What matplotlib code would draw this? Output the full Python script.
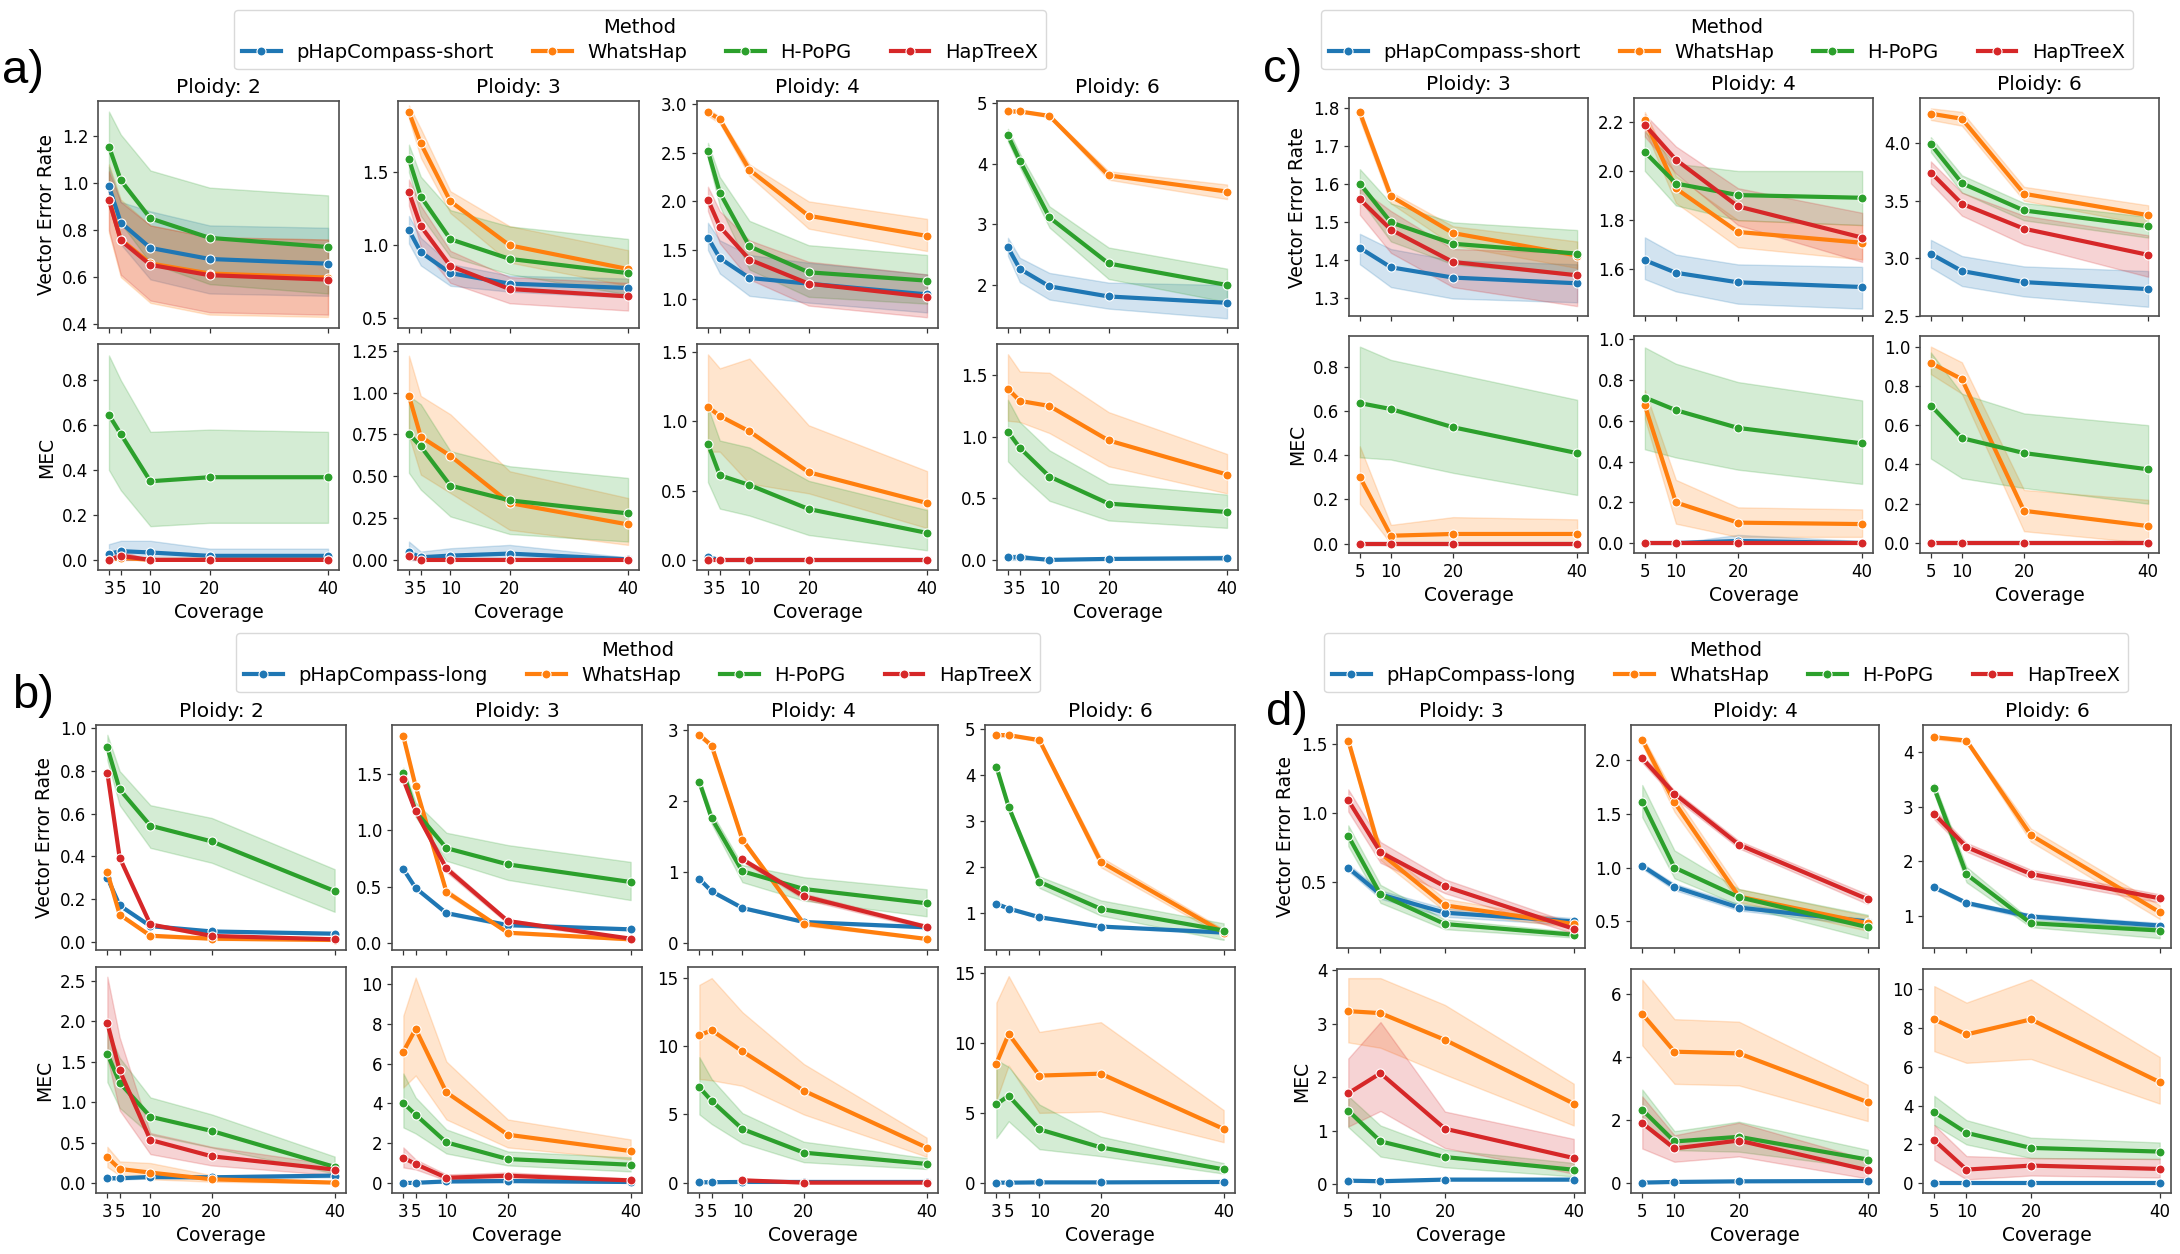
import numpy as np
import matplotlib
matplotlib.use("Agg")
import matplotlib.pyplot as plt
from matplotlib.lines import Line2D

# ---------------- data ----------------
N = None
X_AB = [3, 5, 10, 20, 40]
X_CD = [5, 10, 20, 40]
PLOIDY_AB = [2, 3, 4, 6]
PLOIDY_CD = [3, 4, 6]
METHODS = ["P", "W", "H", "X"]
NAMES_SHORT = ["pHapCompass-short", "WhatsHap", "H-PoPG", "HapTreeX"]
NAMES_LONG = ["pHapCompass-long", "WhatsHap", "H-PoPG", "HapTreeX"]
# method -> (mean, lower, upper)

# ---- panel a (short reads) : vector error rate
A_VER_2 = {
    "P": ([0.986, 0.832, 0.724, 0.677, 0.657], [0.90, 0.74, 0.59, 0.53, 0.52], [1.07, 0.92, 0.88, 0.82, 0.81]),
    "W": ([0.930, 0.760, 0.658, 0.615, 0.598], [0.79, 0.60, 0.49, 0.44, 0.43], [1.08, 0.93, 0.82, 0.77, 0.76]),
    "H": ([1.156, 1.012, 0.850, 0.767, 0.728], [1.00, 0.83, 0.66, 0.57, 0.53], [1.305, 1.207, 1.054, 0.981, 0.948]),
    "X": ([0.928, 0.756, 0.652, 0.608, 0.589], [0.80, 0.61, 0.50, 0.45, 0.44], [1.05, 0.92, 0.82, 0.77, 0.76]),
}
A_VER_3 = {
    "P": ([1.102, 0.951, 0.807, 0.735, 0.705], [1.01, 0.86, 0.72, 0.68, 0.64], [1.20, 1.05, 0.87, 0.79, 0.77]),
    "W": ([1.914, 1.698, 1.300, 0.998, 0.835], [1.87, 1.60, 1.22, 0.88, 0.72], [1.96, 1.80, 1.37, 1.13, 0.965]),
    "H": ([1.591, 1.333, 1.040, 0.905, 0.807], [1.50, 1.20, 0.92, 0.80, 0.66], [1.69, 1.47, 1.24, 1.128, 1.042]),
    "X": ([1.363, 1.130, 0.856, 0.698, 0.647], [1.27, 0.99, 0.74, 0.60, 0.55], [1.45, 1.27, 0.96, 0.78, 0.74]),
}
A_VER_4 = {
    "P": ([1.628, 1.417, 1.214, 1.155, 1.045], [1.50, 1.26, 1.03, 0.96, 0.86], [1.78, 1.60, 1.45, 1.37, 1.25]),
    "W": ([2.917, 2.841, 2.324, 1.852, 1.645], [2.88, 2.80, 2.26, 1.72, 1.49], [2.95, 2.87, 2.38, 2.00, 1.82]),
    "H": ([2.517, 2.090, 1.538, 1.272, 1.186], [2.44, 1.95, 1.30, 1.02, 0.95], [2.60, 2.25, 1.80, 1.55, 1.45]),
    "X": ([2.017, 1.741, 1.403, 1.155, 1.021], [1.90, 1.57, 1.20, 0.93, 0.81], [2.15, 1.90, 1.60, 1.38, 1.25]),
}
A_VER_6 = {
    "P": ([2.622, 2.267, 1.978, 1.811, 1.706], [2.48, 2.05, 1.76, 1.61, 1.45], [2.78, 2.45, 2.20, 2.04, 2.00]),
    "W": ([4.867, 4.867, 4.794, 3.811, 3.544], [4.85, 4.85, 4.77, 3.74, 3.42], [4.89, 4.89, 4.82, 3.88, 3.66]),
    "H": ([4.472, 4.056, 3.117, 2.356, 2.000], [4.37, 3.95, 2.95, 2.10, 1.72], [4.58, 4.17, 3.30, 2.62, 2.27]),
}
# ---- panel a : MEC
A_MEC_2 = {
    "P": ([0.027, 0.039, 0.033, 0.018, 0.018], [0, 0, 0, 0, 0], [0.07, 0.085, 0.085, 0.05, 0.05]),
    "W": ([0.0, 0.01, 0.0, 0.0, 0.0], [0, 0, 0, 0, 0], [0.0, 0.03, 0.0, 0.0, 0.0]),
    "H": ([0.645, 0.560, 0.350, 0.368, 0.368], [0.40, 0.31, 0.15, 0.165, 0.165], [0.91, 0.80, 0.57, 0.58, 0.57]),
    "X": ([0.0, 0.018, 0.0, 0.0, 0.0], [0, 0, 0, 0, 0], [0.01, 0.04, 0.0, 0.0, 0.0]),
}
A_MEC_3 = {
    "P": ([0.046, 0.016, 0.026, 0.038, 0.004], [0, 0, 0, 0, 0], [0.11, 0.05, 0.07, 0.09, 0.015]),
    "W": ([0.980, 0.736, 0.622, 0.340, 0.212], [0.74, 0.51, 0.40, 0.18, 0.09], [1.22, 0.98, 0.87, 0.53, 0.37]),
    "H": ([0.752, 0.678, 0.444, 0.356, 0.278], [0.52, 0.42, 0.26, 0.155, 0.11], [0.98, 0.93, 0.65, 0.56, 0.49]),
    "X": ([0.022, 0.0, 0.0, 0.0, 0.0], [0, 0, 0, 0, 0], [0.04, 0.0, 0.0, 0.0, 0.0]),
}
A_MEC_4 = {
    "P": ([0.02, 0.0, 0.0, 0.0, 0.0], [0, 0, 0, 0, 0], [0.04, 0.01, 0.0, 0.0, 0.0]),
    "W": ([1.102, 1.037, 0.926, 0.632, 0.410], [0.78, 0.78, 0.55, 0.48, 0.23], [1.48, 1.38, 1.45, 0.97, 0.64]),
    "H": ([0.837, 0.610, 0.540, 0.367, 0.195], [0.56, 0.37, 0.32, 0.18, 0.07], [1.10, 0.86, 0.81, 0.57, 0.36]),
    "X": ([0.0, 0.0, 0.0, 0.0, 0.0], [0, 0, 0, 0, 0], [0, 0, 0, 0, 0]),
}
A_MEC_6 = {
    "P": ([0.020, 0.022, 0.0, 0.008, 0.014], [0, 0, 0, 0, 0], [0.04, 0.045, 0.01, 0.02, 0.035]),
    "W": ([1.389, 1.291, 1.250, 0.970, 0.693], [1.13, 1.12, 1.03, 0.76, 0.54], [1.67, 1.53, 1.52, 1.20, 0.86]),
    "H": ([1.041, 0.910, 0.677, 0.457, 0.389], [0.80, 0.70, 0.48, 0.32, 0.26], [1.30, 1.12, 0.89, 0.62, 0.53]),
}

# ---- panel b (long reads) : vector error rate
B_VER_2 = {
    "P": ([0.300, 0.170, 0.073, 0.048, 0.0375], [0.295, 0.165, 0.068, 0.043, 0.033], [0.305, 0.175, 0.078, 0.053, 0.042]),
    "W": ([0.325, 0.127, 0.028, 0.014, 0.008], [0.319, 0.121, 0.022, 0.008, 0.003], [0.331, 0.133, 0.034, 0.020, 0.013]),
    "H": ([0.911, 0.714, 0.544, 0.470, 0.2375], [0.85, 0.64, 0.44, 0.37, 0.14], [0.97, 0.80, 0.64, 0.58, 0.34]),
    "X": ([0.792, 0.394, 0.081, 0.027, 0.011], [0.78, 0.385, 0.075, 0.022, 0.008], [0.80, 0.40, 0.087, 0.032, 0.014]),
}
B_VER_3 = {
    "P": ([0.656, 0.487, 0.264, 0.157, 0.119], [0.645, 0.48, 0.25, 0.145, 0.11], [0.667, 0.495, 0.275, 0.17, 0.13]),
    "W": ([1.838, 1.393, 0.454, 0.089, 0.030], [1.82, 1.37, 0.43, 0.08, 0.02], [1.86, 1.41, 0.48, 0.10, 0.04]),
    "H": ([1.512, 1.170, 0.843, 0.698, 0.541], [1.46, 1.12, 0.73, 0.56, 0.38], [1.56, 1.25, 0.98, 0.87, 0.72]),
    "X": ([1.455, 1.170, 0.662, 0.193, 0.036], [1.43, 1.15, 0.63, 0.17, 0.03], [1.48, 1.19, 0.69, 0.21, 0.045]),
}
B_VER_4 = {
    "P": ([0.905, 0.731, 0.497, 0.300, 0.225], [0.89, 0.716, 0.482, 0.285, 0.21], [0.92, 0.746, 0.512, 0.315, 0.24]),
    "W": ([2.930, 2.780, 1.458, 0.277, 0.061], [2.90, 2.75, 1.42, 0.25, 0.05], [2.96, 2.81, 1.49, 0.30, 0.075]),
    "H": ([2.269, 1.758, 1.013, 0.764, 0.563], [2.22, 1.68, 0.86, 0.60, 0.38], [2.32, 1.84, 1.10, 0.93, 0.76]),
    "X": ([N, N, 1.181, 0.661, 0.230], [N, N, 1.15, 0.62, 0.20], [N, N, 1.21, 0.70, 0.26]),
}
B_VER_6 = {
    "P": ([1.203, 1.101, 0.913, 0.710, 0.580], [1.18, 1.08, 0.89, 0.69, 0.55], [1.22, 1.12, 0.93, 0.73, 0.61]),
    "W": ([4.870, 4.870, 4.761, 2.116, 0.580], [4.84, 4.84, 4.73, 2.00, 0.50], [4.90, 4.90, 4.79, 2.22, 0.65]),
    "H": ([4.188, 3.312, 1.681, 1.094, 0.623], [4.15, 3.25, 1.55, 0.95, 0.42], [4.22, 3.36, 1.80, 1.28, 0.78]),
}
# ---- panel b : MEC
B_MEC_2 = {
    "P": ([0.062, 0.062, 0.078, 0.074, 0.095], [0.045, 0.045, 0.06, 0.055, 0.075], [0.08, 0.08, 0.095, 0.095, 0.115]),
    "W": ([0.321, 0.177, 0.132, 0.049, 0.008], [0.20, 0.10, 0.05, 0.02, 0.0], [0.45, 0.27, 0.25, 0.10, 0.02]),
    "H": ([1.600, 1.242, 0.822, 0.646, 0.202], [1.25, 0.93, 0.60, 0.44, 0.12], [1.90, 1.55, 1.06, 0.85, 0.33]),
    "X": ([1.978, 1.394, 0.535, 0.333, 0.169], [1.55, 0.90, 0.36, 0.22, 0.10], [2.55, 1.80, 0.62, 0.45, 0.23]),
}
B_MEC_3 = {
    "P": ([0.02, 0.03, 0.10, 0.12, 0.07], [0.0, 0.0, 0.03, 0.05, 0.03], [0.05, 0.06, 0.17, 0.19, 0.11]),
    "W": ([6.594, 7.730, 4.558, 2.437, 1.619], [4.8, 5.4, 3.2, 1.8, 1.2], [8.4, 10.3, 6.1, 3.2, 2.2]),
    "H": ([4.023, 3.439, 2.053, 1.219, 0.935], [2.8, 2.5, 1.5, 0.9, 0.6], [5.5, 4.3, 2.7, 1.6, 1.3]),
    "X": ([1.285, 0.968, 0.284, 0.384, 0.150], [0.8, 0.7, 0.15, 0.2, 0.05], [1.8, 1.2, 0.45, 0.55, 0.25]),
}
B_MEC_4 = {
    "P": ([0.02, 0.03, 0.05, 0.05, 0.05], [0.0, 0.0, 0.0, 0.0, 0.0], [0.05, 0.06, 0.1, 0.1, 0.1]),
    "W": ([10.80, 11.17, 9.63, 6.74, 2.57], [7.6, 7.5, 7.1, 5.0, 1.9], [14.5, 15.0, 12.5, 8.7, 3.3]),
    "H": ([6.99, 5.99, 3.93, 2.20, 1.37], [5.0, 4.3, 2.9, 1.5, 1.0], [9.2, 7.6, 5.1, 3.0, 1.8]),
    "X": ([N, N, 0.17, 0.0, 0.0], [N, N, 0.05, 0.0, 0.0], [N, N, 0.3, 0.05, 0.05]),
}
B_MEC_6 = {
    "P": ([0.0, 0.0, 0.02, 0.02, 0.05], [0.0, 0.0, 0.0, 0.0, 0.0], [0.03, 0.03, 0.05, 0.05, 0.1]),
    "W": ([8.53, 10.65, 7.67, 7.81, 3.85], [5.9, 8.4, 5.0, 5.1, 2.9], [12.9, 14.8, 10.8, 11.5, 5.2]),
    "H": ([5.61, 6.23, 3.82, 2.53, 0.955], [3.2, 4.4, 2.4, 1.9, 0.65], [8.8, 8.3, 5.6, 3.3, 1.4]),
}

# ---- panel c (short reads, second set) : vector error rate
C_VER_3 = {
    "P": ([1.433, 1.382, 1.355, 1.340], [1.39, 1.33, 1.30, 1.29], [1.47, 1.43, 1.40, 1.39]),
    "W": ([1.789, 1.569, 1.472, 1.413], [1.77, 1.55, 1.44, 1.38], [1.80, 1.58, 1.49, 1.45]),
    "H": ([1.602, 1.500, 1.444, 1.418], [1.56, 1.45, 1.39, 1.36], [1.64, 1.55, 1.50, 1.48]),
    "X": ([1.561, 1.481, 1.396, 1.361], [1.52, 1.42, 1.33, 1.28], [1.59, 1.53, 1.43, 1.42]),
}
C_VER_4 = {
    "P": ([1.637, 1.586, 1.547, 1.528], [1.56, 1.51, 1.46, 1.44], [1.73, 1.66, 1.62, 1.61]),
    "W": ([2.207, 1.929, 1.752, 1.708], [2.17, 1.87, 1.69, 1.64], [2.24, 1.98, 1.80, 1.78]),
    "H": ([2.077, 1.949, 1.902, 1.891], [2.00, 1.86, 1.80, 1.78], [2.16, 2.03, 2.00, 2.00]),
    "X": ([2.188, 2.046, 1.856, 1.729], [2.14, 1.99, 1.78, 1.63], [2.23, 2.10, 1.93, 1.83]),
}
C_VER_6 = {
    "P": ([3.039, 2.890, 2.794, 2.733], [2.92, 2.76, 2.67, 2.58], [3.16, 3.02, 2.93, 2.89]),
    "W": ([4.254, 4.210, 3.560, 3.374], [4.20, 4.15, 3.50, 3.29], [4.30, 4.27, 3.62, 3.46]),
    "H": ([3.988, 3.651, 3.415, 3.278], [3.92, 3.57, 3.33, 3.18], [4.05, 3.72, 3.48, 3.36]),
    "X": ([3.744, 3.473, 3.257, 3.030], [3.65, 3.37, 3.12, 2.84], [3.84, 3.57, 3.37, 3.20]),
}
# ---- panel c : MEC
C_MEC_3 = {
    "P": ([0.0, 0.0, 0.0, 0.0], [0, 0, 0, 0], [0, 0, 0, 0]),
    "W": ([0.301, 0.036, 0.044, 0.044], [0.18, 0.0, 0.0, 0.0], [0.44, 0.085, 0.12, 0.11]),
    "H": ([0.635, 0.608, 0.526, 0.409], [0.39, 0.38, 0.32, 0.22], [0.89, 0.83, 0.77, 0.65]),
    "X": ([0.0, 0.0, 0.0, 0.0], [0, 0, 0, 0], [0, 0, 0, 0]),
}
C_MEC_4 = {
    "P": ([0.0, 0.0, 0.01, 0.0], [0, 0, 0, 0], [0.0, 0.0, 0.04, 0.01]),
    "W": ([0.676, 0.199, 0.100, 0.093], [0.61, 0.095, 0.03, 0.03], [0.75, 0.31, 0.175, 0.165]),
    "H": ([0.714, 0.652, 0.565, 0.489], [0.46, 0.42, 0.36, 0.29], [0.96, 0.88, 0.79, 0.70]),
    "X": ([0.0, 0.0, 0.0, 0.0], [0, 0, 0, 0], [0, 0, 0, 0]),
}
C_MEC_6 = {
    "P": ([0.0, 0.0, 0.0, 0.0], [0, 0, 0, 0], [0, 0, 0, 0]),
    "W": ([0.917, 0.834, 0.164, 0.086], [0.86, 0.76, 0.06, 0.0], [1.00, 0.92, 0.27, 0.22]),
    "H": ([0.700, 0.534, 0.458, 0.375], [0.43, 0.33, 0.28, 0.20], [0.97, 0.76, 0.66, 0.60]),
    "X": ([0.0, 0.0, 0.0, 0.0], [0, 0, 0, 0], [0, 0, 0, 0]),
}

# ---- panel d (long reads, second set) : vector error rate
D_VER_3 = {
    "P": ([0.603, 0.411, 0.279, 0.216], [0.58, 0.38, 0.25, 0.19], [0.63, 0.44, 0.31, 0.24]),
    "W": ([1.522, 0.709, 0.332, 0.197], [1.49, 0.66, 0.29, 0.17], [1.55, 0.75, 0.38, 0.22]),
    "H": ([0.834, 0.411, 0.197, 0.120], [0.76, 0.35, 0.16, 0.10], [0.91, 0.48, 0.23, 0.14]),
    "X": ([1.091, 0.716, 0.469, 0.163], [1.01, 0.64, 0.42, 0.13], [1.17, 0.79, 0.52, 0.20]),
}
D_VER_4 = {
    "P": ([1.016, 0.820, 0.627, 0.497], [0.99, 0.79, 0.60, 0.46], [1.04, 0.85, 0.66, 0.52]),
    "W": ([2.193, 1.609, 0.730, 0.481], [2.15, 1.52, 0.68, 0.41], [2.23, 1.68, 0.80, 0.55]),
    "H": ([1.615, 1.000, 0.724, 0.444], [1.47, 0.90, 0.65, 0.34], [1.77, 1.16, 0.80, 0.56]),
    "X": ([2.019, 1.689, 1.214, 0.705], [1.98, 1.65, 1.18, 0.66], [2.05, 1.72, 1.25, 0.75]),
}
D_VER_6 = {
    "P": ([1.528, 1.243, 0.994, 0.830], [1.49, 1.21, 0.95, 0.78], [1.56, 1.28, 1.04, 0.88]),
    "W": ([4.267, 4.206, 2.481, 1.073], [4.23, 4.17, 2.36, 0.95], [4.30, 4.24, 2.60, 1.20]),
    "H": ([3.338, 1.765, 0.872, 0.739], [3.23, 1.62, 0.80, 0.60], [3.43, 1.90, 0.93, 0.80]),
    "X": ([2.864, 2.263, 1.771, 1.328], [2.77, 2.18, 1.69, 1.25], [2.95, 2.34, 1.85, 1.40]),
}
# ---- panel d : MEC
D_MEC_3 = {
    "P": ([0.07, 0.06, 0.09, 0.09], [0.05, 0.04, 0.07, 0.07], [0.09, 0.08, 0.11, 0.11]),
    "W": ([3.234, 3.196, 2.698, 1.508], [2.65, 2.55, 2.05, 1.10], [3.85, 3.85, 3.35, 1.88]),
    "H": ([1.377, 0.804, 0.511, 0.274], [1.07, 0.52, 0.32, 0.15], [1.65, 1.10, 0.65, 0.40]),
    "X": ([1.701, 2.075, 1.040, 0.492], [1.08, 1.37, 0.68, 0.20], [2.35, 3.03, 1.36, 0.85]),
}
D_MEC_4 = {
    "P": ([0.02, 0.04, 0.06, 0.07], [0.0, 0.02, 0.04, 0.05], [0.04, 0.06, 0.08, 0.09]),
    "W": ([5.365, 4.169, 4.116, 2.571], [4.37, 3.15, 3.10, 1.97], [6.45, 5.20, 5.12, 3.12]),
    "H": ([2.328, 1.323, 1.471, 0.751], [1.85, 1.05, 1.00, 0.48], [2.97, 1.65, 1.95, 1.06]),
    "X": ([1.905, 1.101, 1.354, 0.413], [1.10, 0.68, 0.85, 0.15], [2.75, 1.52, 1.92, 0.75]),
}
D_MEC_6 = {
    "P": ([0.03, 0.03, 0.03, 0.03], [0.0, 0.0, 0.0, 0.0], [0.06, 0.06, 0.06, 0.06]),
    "W": ([8.436, 7.663, 8.436, 5.206], [6.8, 6.2, 6.4, 4.1], [10.15, 9.3, 10.5, 6.5]),
    "H": ([3.660, 2.594, 1.821, 1.632], [3.0, 2.0, 1.3, 1.25], [4.5, 3.25, 2.35, 2.1]),
    "X": ([2.216, 0.704, 0.911, 0.739], [1.2, 0.2, 0.4, 0.3], [3.0, 1.4, 1.3, 1.25]),
}

# y-axis limits
A_VER_YLIM = [(0.383, 1.35), (0.43, 1.99), (0.70, 3.03), (1.29, 5.04)]
A_MEC_YLIM = [(-0.045, 0.961), (-0.06, 1.29), (-0.072, 1.555), (-0.082, 1.753)]
B_VER_YLIM = [(-0.039, 1.016), (-0.065, 1.94), (-0.094, 3.07), (0.20, 5.09)]
B_MEC_YLIM = [(-0.12, 2.67), (-0.48, 10.83), (-0.76, 15.81), (-0.74, 15.45)]
C_VER_YLIM = [(1.254, 1.827), (1.41, 2.297), (2.5, 4.39)]
C_MEC_YLIM = [(-0.042, 0.938), (-0.049, 1.016), (-0.051, 1.054)]
D_VER_YLIM = [(0.024, 1.635), (0.25, 2.33), (0.42, 4.49)]
D_MEC_YLIM = [(-0.16, 4.02), (-0.31, 6.79), (-0.50, 11.03)]

# ---------------- styling / layout ----------------
COL = {"P": "#1f77b4", "W": "#ff7f0e", "H": "#2ca02c", "X": "#d62728"}
W_PX, H_PX = 2180, 1254
fig = plt.figure(figsize=(W_PX / 100, H_PX / 100), dpi=100)


def add_ax(left, top, width, height):
    return fig.add_axes([left / W_PX, 1 - (top + height) / H_PX, width / W_PX, height / H_PX])


def arr(v):
    return np.array([np.nan if e is None else e for e in v], dtype=float)


def draw(ax, x, data, ylim):
    x = np.array(x, dtype=float)
    for m in METHODS:
        if m not in data:
            continue
        mean, lo, hi = (arr(v) for v in data[m])
        ok = ~np.isnan(lo) & ~np.isnan(hi)
        ax.fill_between(x[ok], lo[ok], hi[ok], color=COL[m], alpha=0.2, linewidth=1.0)
    for m in METHODS:
        if m not in data:
            continue
        mean = arr(data[m][0])
        ok = ~np.isnan(mean)
        ax.plot(x[ok], mean[ok], color=COL[m], lw=3, marker="o", ms=6.5,
                mec="white", mew=0.8, solid_capstyle="round")
    ax.set_ylim(*ylim)
    ax.set_xticks(x)
    ax.set_xlim(x[0] - 0.05 * (x[-1] - x[0]), x[-1] + 0.05 * (x[-1] - x[0]))
    ax.tick_params(labelsize=12, length=3.5, width=0.9, color="0.2")
    for s in ax.spines.values():
        s.set_color("0.3")
        s.set_linewidth(1.2)


def panel(lefts, width, top_rows, x, ploidies, ver_list, mec_list, ver_ylims, mec_ylims):
    (t1, b1), (t2, b2) = top_rows
    for i, p in enumerate(ploidies):
        ax1 = add_ax(lefts[i], t1, width, b1 - t1)
        ax2 = add_ax(lefts[i], t2, width, b2 - t2)
        draw(ax1, x, ver_list[i], ver_ylims[i])
        draw(ax2, x, mec_list[i], mec_ylims[i])
        ax1.set_xticklabels([])
        ax1.set_title(f"Ploidy: {p}", fontsize=14.5)
        ax2.set_xticklabels([str(v) for v in x])
        ax2.set_xlabel("Coverage", fontsize=13.5)
        if i == 0:
            ax1.set_ylabel("Vector Error Rate", fontsize=13.5)
            ax2.set_ylabel("MEC", fontsize=13.5)


def legend(names, cx, top):
    handles = [Line2D([], [], color=COL[m], lw=3, marker="o", ms=6.5, mec="white", mew=0.8)
               for m in METHODS]
    fig.legend(handles, names, title="Method", ncol=4, loc="upper center",
               bbox_to_anchor=(cx / W_PX, 1 - top / H_PX), borderaxespad=0.0,
               fontsize=14, title_fontsize=14, labelspacing=0.3,
               frameon=True, edgecolor="0.85", framealpha=1.0)


panel([98, 398, 697, 997], 241, [(101, 328), (344, 570)], X_AB, PLOIDY_AB,
      [A_VER_2, A_VER_3, A_VER_4, A_VER_6], [A_MEC_2, A_MEC_3, A_MEC_4, A_MEC_6],
      A_VER_YLIM, A_MEC_YLIM)
panel([96, 392, 688, 985], 250, [(725, 950), (967, 1193)], X_AB, PLOIDY_AB,
      [B_VER_2, B_VER_3, B_VER_4, B_VER_6], [B_MEC_2, B_MEC_3, B_MEC_4, B_MEC_6],
      B_VER_YLIM, B_MEC_YLIM)
panel([1349, 1634, 1920], 239, [(98, 316), (336, 553)], X_CD, PLOIDY_CD,
      [C_VER_3, C_VER_4, C_VER_6], [C_MEC_3, C_MEC_4, C_MEC_6],
      C_VER_YLIM, C_MEC_YLIM)
panel([1337, 1631, 1923], 248, [(725, 948), (969, 1193)], X_CD, PLOIDY_CD,
      [D_VER_3, D_VER_4, D_VER_6], [D_MEC_3, D_MEC_4, D_MEC_6],
      D_VER_YLIM, D_MEC_YLIM)

legend(NAMES_SHORT, 640, 10)
legend(NAMES_LONG, 638, 633)
legend(NAMES_SHORT, 1727, 10)
legend(NAMES_LONG, 1726, 633)

for lab, x, y in [("a)", 2, 83), ("b)", 12, 708), ("c)", 1263, 82), ("d)", 1266, 725)]:
    fig.text(x / W_PX, 1 - y / H_PX, lab, fontsize=34, va="baseline", ha="left",
             family=["Liberation Sans", "DejaVu Sans"])

fig.savefig("out.png", dpi=100)
